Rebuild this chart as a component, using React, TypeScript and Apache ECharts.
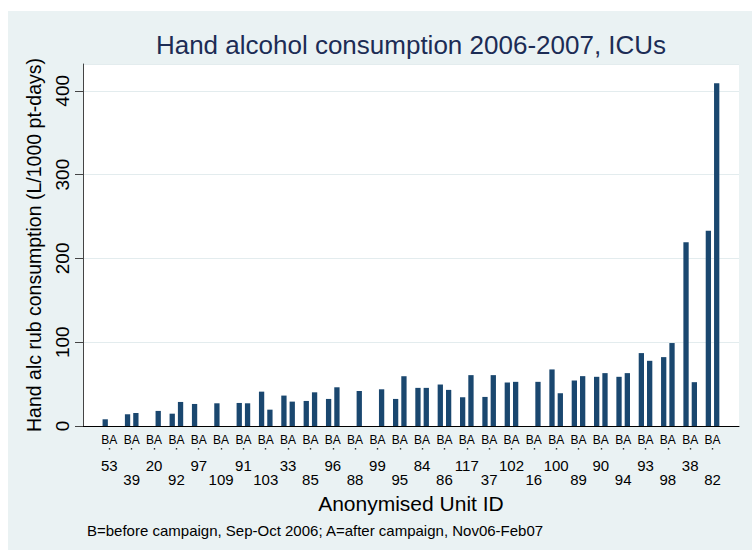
import React, { useEffect, useRef } from "react";
import * as echarts from "echarts";

const unitIds = ["53", "39", "20", "92", "97", "109", "91", "103", "33", "85", "96", "88", "99", "95", "84", "86", "117", "37", "102", "16", "100", "89", "90", "94", "93", "98", "38", "82"];
const beforeValues = [8, 14, null, 14.7, 26.3, 27.1, 27.5, 41, 36.3, 29.9, 32.3, null, null, 32.3, 45.5, 49.5, 34.3, 34.7, 51.9, null, 67.5, 54.3, 58.7, 58.7, 87, 82.2, 219.2, 233.1];
const afterValues = [null, 15.5, 18, 28.7, null, null, 27.1, 19.5, 29.1, 40.2, 46.2, 41.8, 43.8, 59.4, 45.5, 43.1, 60.7, 60.7, 52.7, 52.7, 39.1, 59.5, 63.1, 63.1, 77.8, 99, 52.3, 409];
const yTicks = [0, 100, 200, 300, 400];
const yMax = 432;

const titleText = "Hand alcohol consumption 2006-2007, ICUs";
const yTitle = "Hand alc rub consumption (L/1000 pt-days)";
const xTitle = "Anonymised Unit ID";
const noteText = "B=before campaign, Sep-Oct 2006; A=after campaign, Nov06-Feb07";
const groupLabel = "BA";

const FONT = "'Liberation Sans', Arial, Helvetica, sans-serif";

export default function App() {
  const ref = useRef<HTMLDivElement>(null);
  useEffect(() => {
    if (!ref.current) return;
    const chart = echarts.init(ref.current, undefined, { renderer: "svg" });
    const hiddenCat = {
      type: "category", gridIndex: 0, position: "bottom", data: unitIds,
      axisLine: { show: false }, axisTick: { show: false }, splitLine: { show: false },
    };
    const option: any = {
      animation: false,
      backgroundColor: "#eaf2f3",
      textStyle: { fontFamily: FONT },
      grid: [
        { left: 90.2, top: 53, width: 625.5, height: 362 },
        { left: 75, top: 53, width: 656, height: 362, show: true, backgroundColor: "#ffffff", borderWidth: 0 },
      ],
      xAxis: [
        {
          ...hiddenCat,
          axisLabel: {
            interval: 0, margin: 7, fontSize: 12, lineHeight: 14, color: "#000", fontFamily: FONT,
            formatter: () => groupLabel,
          },
        },
        {
          ...hiddenCat,
          axisLabel: { interval: (i: number) => i % 2 === 0, margin: 31, fontSize: 15, lineHeight: 16, color: "#000", fontFamily: FONT },
        },
        {
          ...hiddenCat,
          axisLabel: { interval: (i: number) => i % 2 === 1, margin: 45.5, fontSize: 15, lineHeight: 16, color: "#000", fontFamily: FONT },
          name: xTitle, nameLocation: "middle", nameGap: 66,
          nameTextStyle: { fontSize: 21, lineHeight: 22, color: "#000", fontFamily: FONT },
        },
        {
          // tiny marks under each "BA" label
          ...hiddenCat,
          offset: 22,
          axisTick: { show: true, interval: 0, alignWithLabel: true, length: 1.6, lineStyle: { color: "#333", width: 1.4 } },
          axisLabel: { show: false },
        },
        {
          type: "value", gridIndex: 1, position: "bottom", min: 0, max: 1,
          axisLine: { show: true, lineStyle: { color: "#000", width: 1 } },
          axisTick: { show: false }, axisLabel: { show: false }, splitLine: { show: false },
        },
      ],
      yAxis: [
        {
          type: "value", gridIndex: 0, position: "left", min: 0, max: yMax, offset: 15.2,
          axisLine: { show: true, lineStyle: { color: "#444", width: 1 } },
          axisTick: { show: true, length: 8, customValues: yTicks, lineStyle: { color: "#444", width: 1 } },
          axisLabel: {
            customValues: yTicks, rotate: 90, margin: 11, fontSize: 19, lineHeight: 20, color: "#000", fontFamily: FONT,
            formatter: (v: number) => (v % 100 === 0 ? String(v) : ""),
          },
          splitLine: { show: false },
          name: yTitle, nameLocation: "middle", nameRotate: 90, nameGap: 30,
          nameTextStyle: { fontSize: 19.5, lineHeight: 20, color: "#000", fontFamily: FONT },
        },
        {
          type: "value", gridIndex: 1, position: "left", min: 0, max: yMax, interval: 100,
          axisLine: { show: false }, axisTick: { show: false }, axisLabel: { show: false },
          splitLine: { show: true, lineStyle: { color: "#e3ecee", width: 1.2 } },
        },
      ],
      series: [
        {
          type: "bar", name: "B", xAxisIndex: 0, yAxisIndex: 0, data: beforeValues,
          barWidth: 5.3, barGap: "57%", itemStyle: { color: "#1a476f" },
        },
        {
          type: "bar", name: "A", xAxisIndex: 0, yAxisIndex: 0, data: afterValues,
          barWidth: 5.3, barGap: "57%", itemStyle: { color: "#1a476f" },
        },
      ],
      graphic: [
        {
          type: "text", x: 403, y: 34,
          style: {
            text: titleText, fill: "#1c2c55", fontSize: 26, fontFamily: FONT,
            textAlign: "center", align: "center", textVerticalAlign: "middle", verticalAlign: "middle",
          },
        },
        {
          type: "text", x: 79, y: 519.5,
          style: {
            text: noteText, fill: "#000", fontSize: 15, fontFamily: FONT,
            textAlign: "left", align: "left", textVerticalAlign: "middle", verticalAlign: "middle",
          },
        },
      ],
    };
    chart.setOption(option);
    return () => chart.dispose();
  }, []);
  return (
    <div
      ref={ref}
      style={{ position: "absolute", left: 8, top: 11, width: 744, height: 539 }}
    />
  );
}
